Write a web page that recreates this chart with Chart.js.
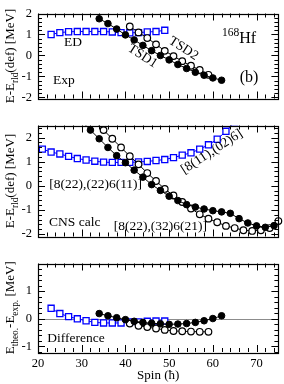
<!DOCTYPE html>
<html>
<head>
<meta charset="utf-8">
<script src="https://cdn.jsdelivr.net/npm/chart.js"></script>
<style>
  body { margin: 0; background: #fff; width: 284px; height: 384px; overflow: hidden; position: relative; }
  canvas { position: absolute; left: 0; }
</style>
</head>
<body>
<canvas id="c1" width="284" height="112" style="top:0px"></canvas>
<canvas id="c2" width="284" height="138" style="top:112px"></canvas>
<canvas id="c3" width="284" height="134" style="top:250px"></canvas>
<script>
const FONT = '"Liberation Serif", "Times New Roman", serif';

// tick labels
const xTicks = [20, 30, 40, 50, 60, 70];
const yTicksTop = [-2, -1, 0, 1, 2];
const yTicksMid = [-2, -1, 0, 1, 2];
const yTicksBot = [-1, 0, 1];

// experiment (top panel)
const expEdSpin = [23, 25, 27, 29, 31, 33, 35, 37, 39, 41, 43, 45, 47, 49];
const expEd = [1.0, 1.09, 1.13, 1.14, 1.14, 1.14, 1.14, 1.12, 1.09, 1.08, 1.09, 1.12, 1.14, 1.2];
const expTsd1Spin = [34, 36, 38, 40, 42, 44, 46, 48, 50, 52, 54, 56, 58, 60, 62];
const expTsd1 = [1.75, 1.52, 1.26, 0.98, 0.74, 0.48, 0.23, 0.0, -0.21, -0.43, -0.62, -0.8, -0.94, -1.07, -1.18];
const expTsd2Spin = [41, 43, 45, 47, 49, 51, 53, 55, 57, 59];
const expTsd2 = [1.38, 1.10, 0.83, 0.53, 0.22, -0.03, -0.27, -0.49, -0.69, -0.92];

// CNS calc (middle panel)
const cnsEdSpin = [21, 23, 25, 27, 29, 31, 33, 35, 37, 39, 41, 43, 45, 47, 49, 51, 53, 55, 57, 59, 61, 63, 65];
const cnsEd = [1.52, 1.40, 1.32, 1.22, 1.13, 1.07, 1.02, 0.98, 0.97, 0.97, 0.97, 0.99, 1.01, 1.05, 1.09, 1.17, 1.27, 1.37, 1.52, 1.70, 1.93, 2.26, 2.65];
const cnsTsd1Spin = [30, 32, 34, 36, 38, 40, 42, 44, 46, 48, 50, 52, 54, 56, 58, 60, 62, 64, 66, 68, 70, 72, 74];
const cnsTsd1 = [2.68, 2.31, 1.95, 1.59, 1.25, 0.96, 0.65, 0.36, 0.05, -0.19, -0.43, -0.61, -0.78, -0.88, -0.96, -1.03, -1.08, -1.14, -1.36, -1.54, -1.66, -1.72, -1.65];
const cnsTsd2Spin = [33, 35, 37, 39, 41, 43, 45, 47, 49, 51, 53, 55, 57, 59, 61, 63, 65, 67, 69, 71, 73, 75];
const cnsTsd2 = [2.68, 2.31, 1.95, 1.59, 1.23, 0.89, 0.53, 0.20, -0.13, -0.40, -0.67, -0.94, -1.18, -1.36, -1.51, -1.66, -1.75, -1.84, -1.87, -1.84, -1.75, -1.46];

// difference (bottom panel)
const diffEd = [0.38, 0.19, 0.08, 0.0, -0.07, -0.13, -0.15, -0.15, -0.15, -0.11, -0.11, -0.09, -0.08, -0.08];
const diffTsd1 = [0.19, 0.11, 0.04, -0.03, -0.09, -0.13, -0.16, -0.18, -0.20, -0.19, -0.17, -0.13, -0.07, 0.01, 0.11];
const diffTsd2 = [-0.17, -0.25, -0.30, -0.35, -0.40, -0.44, -0.45, -0.46, -0.47, -0.47];

function pts(xs, ys) { return xs.map((x, i) => ({ x: x, y: ys[i] })); }

const CLIP = { left: 5, top: 0, right: 6, bottom: 5 };
function filled(d) {
  return { data: d, borderColor: '#000', borderWidth: 1, pointStyle: 'circle', pointRadius: 3.3,
    pointBackgroundColor: '#000', pointBorderColor: '#000', pointBorderWidth: 1, clip: CLIP };
}
function open(d) {
  return { data: d, borderColor: '#000', borderWidth: 1, pointStyle: 'circle', pointRadius: 3.3,
    pointBackgroundColor: '#fff', pointBorderColor: '#000', pointBorderWidth: 1.2, clip: CLIP };
}
function squares(d) {
  return { data: d, borderColor: '#0000ff', borderWidth: 1, pointStyle: 'rect', pointRadius: 4.3,
    pointBackgroundColor: '#fff', pointBorderColor: '#0000ff', pointBorderWidth: 1.3, clip: CLIP };
}

// text with sub/superscripts: mode 0 normal, 1 sub, 2 sup
function richText(ctx, parts, x, y, size, angle) {
  ctx.save();
  ctx.translate(x, y);
  ctx.rotate((angle || 0) * Math.PI / 180);
  const fontFor = m => (m ? size * 0.72 : size) + 'px ' + FONT;
  let w = 0;
  parts.forEach(([t, m]) => { ctx.font = fontFor(m); w += ctx.measureText(t).width; });
  let cx = -w / 2;
  ctx.textBaseline = 'middle';
  ctx.textAlign = 'left';
  ctx.fillStyle = '#000';
  parts.forEach(([t, m]) => {
    ctx.font = fontFor(m);
    const dy = m == 1 ? size * 0.32 : m == 2 ? -size * 0.38 : 0;
    ctx.fillText(t, cx, dy);
    cx += ctx.measureText(t).width;
  });
  ctx.restore();
}

// frame, inward ticks, zero line and labels
function framePlugin(cfg) {
  return {
    id: 'frame',
    beforeDatasetsDraw(chart) {
      if (!cfg.zero) return;
      const { ctx, chartArea: a, scales: { y } } = chart;
      const py = Math.round(y.getPixelForValue(0)) + 0.5;
      ctx.save();
      ctx.strokeStyle = '#8c8c8c';
      ctx.lineWidth = 1;
      ctx.beginPath();
      ctx.moveTo(a.left, py); ctx.lineTo(a.right, py);
      ctx.stroke();
      ctx.restore();
    },
    afterDatasetsDraw(chart) {
      const { ctx, chartArea: a, scales: { x, y } } = chart;
      ctx.save();
      ctx.strokeStyle = '#000';
      ctx.lineWidth = 1;
      ctx.beginPath();
      for (let v = 20; v < 75; v += 2) {
        const px = Math.round(x.getPixelForValue(v)) + 0.5;
        const len = v % 10 === 0 ? 7 : 4;
        ctx.moveTo(px, a.bottom); ctx.lineTo(px, a.bottom - len);
        ctx.moveTo(px, a.top); ctx.lineTo(px, a.top + len);
      }
      for (let k = Math.ceil(cfg.yMin * 5); k <= Math.floor(cfg.yMax * 5); k++) {
        const py = Math.round(y.getPixelForValue(k / 5)) + 0.5;
        const len = k % 5 === 0 ? 7 : 4;
        ctx.moveTo(a.left, py); ctx.lineTo(a.left + len, py);
        ctx.moveTo(a.right, py); ctx.lineTo(a.right - len, py);
      }
      ctx.stroke();
      ctx.lineWidth = 1.2;
      ctx.strokeRect(Math.round(a.left) + 0.5, Math.round(a.top) + 0.5,
        Math.round(a.right - a.left), Math.round(a.bottom - a.top));
      ctx.restore();

      cfg.labels.forEach(l => {
        richText(ctx, l.p, x.getPixelForValue(l.x), y.getPixelForValue(l.y), l.s, l.a);
      });
      richText(ctx, cfg.yTitle, 11, (a.top + a.bottom) / 2, 13, -90);
    }
  };
}

function panel(id, sets, cfg) {
  return new Chart(document.getElementById(id), {
    type: 'line',
    data: { datasets: sets },
    options: {
      responsive: false,
      animation: false,
      events: [],
      layout: { padding: cfg.pad },
      plugins: { legend: { display: false }, tooltip: { enabled: false } },
      scales: {
        x: {
          type: 'linear', min: 20, max: 75, display: !!cfg.showX,
          grid: { display: false, drawTicks: false }, border: { display: false },
          afterBuildTicks: s => { s.ticks = xTicks.map(v => ({ value: v })); },
          afterFit: s => { if (cfg.showX) s.height = 32; },
          ticks: { color: '#000', font: { family: FONT, size: 12.5 }, padding: 4, maxRotation: 0 },
          title: { display: !!cfg.showX, text: 'Spin (ħ)', color: '#000',
            font: { family: FONT, size: 13 }, padding: { top: 0, bottom: 1 } }
        },
        y: {
          type: 'linear', min: cfg.yMin, max: cfg.yMax,
          grid: { display: false, drawTicks: false }, border: { display: false },
          afterBuildTicks: s => { s.ticks = cfg.yTicks.map(v => ({ value: v })); },
          afterFit: s => { s.width = 38; },
          ticks: { color: '#000', font: { family: FONT, size: 12.5 }, padding: 6 }
        }
      }
    },
    plugins: [framePlugin(cfg)]
  });
}

// top: Exp
panel('c1', [
  filled(pts(expTsd1Spin, expTsd1)),
  open(pts(expTsd2Spin, expTsd2)),
  squares(pts(expEdSpin, expEd))
], {
  yMin: -2.05, yMax: 2, yTicks: yTicksTop,
  pad: { top: 5, right: 5, bottom: 4, left: 0 },
  yTitle: [['E-E', 0], ['rld', 1], ['(def) [MeV]', 0]],
  labels: [
    { p: [['ED', 0]], x: 28.0, y: 0.62, s: 13.5 },
    { p: [['Exp', 0]], x: 25.9, y: -1.21, s: 13.5 },
    { p: [['TSD1', 0]], x: 43.9, y: -0.03, s: 13.5, a: 33 },
    { p: [['TSD2', 0]], x: 53.3, y: 0.33, s: 13.5, a: 33 },
    { p: [['168', 2], ['Hf', 0]], x: 66.0, y: 0.8, s: 16 },
    { p: [['(b)', 0]], x: 68.3, y: -1.05, s: 16 }
  ]
});

// middle: CNS calc
panel('c2', [
  filled(pts(cnsTsd1Spin, cnsTsd1)),
  open(pts(cnsTsd2Spin, cnsTsd2)),
  squares(pts(cnsEdSpin, cnsEd))
], {
  yMin: -2.1, yMax: 2.5, yTicks: yTicksMid,
  pad: { top: 5.8, right: 5, bottom: 4.5, left: 0 },
  yTitle: [['E-E', 0], ['rld', 1], ['(def) [MeV]', 0]],
  labels: [
    { p: [['[8(22),(22)6(11)]', 0]], x: 33.2, y: 0.05, s: 13.5 },
    { p: [['[8(11),(02)6]', 0]], x: 59.75, y: 1.41, s: 13.5, a: -33 },
    { p: [['[8(22),(32)6(21)]', 0]], x: 48.0, y: -1.70, s: 13.5 },
    { p: [['CNS calc', 0]], x: 28.4, y: -1.51, s: 13.5 }
  ]
});

// bottom: Difference
panel('c3', [
  filled(pts(expTsd1Spin, diffTsd1)),
  open(pts(expTsd2Spin, diffTsd2)),
  squares(pts(expEdSpin, diffEd))
], {
  yMin: -1.2, yMax: 2, yTicks: yTicksBot, showX: true, zero: true,
  pad: { top: 7, right: 5, bottom: 0, left: 0 },
  yTitle: [['E', 0], ['theo.', 1], ['-E', 0], ['exp.', 1], [' [MeV]', 0]],
  labels: [
    { p: [['Difference', 0]], x: 28.7, y: -0.72, s: 13.5 }
  ]
});
</script>
</body>
</html>
